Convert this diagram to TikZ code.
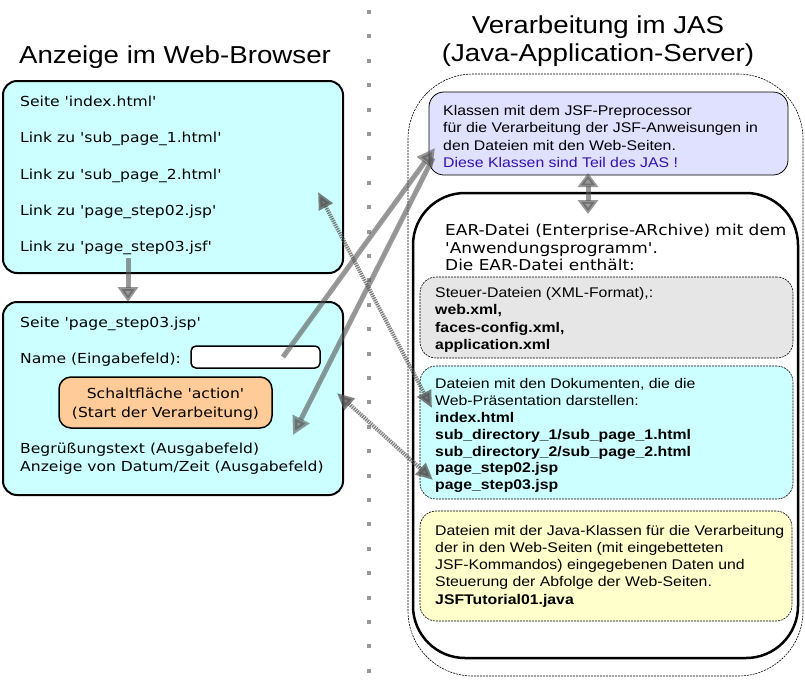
\documentclass[tikz,border=0pt]{standalone}
\usepackage{fontspec}
\usetikzlibrary{arrows.meta}
\newfontfamily\dvs[FakeStretch=1.13]{DejaVu Sans}
\newfontfamily\lis[FakeStretch=1.13]{Liberation Sans}
\definecolor{cyanbg}{HTML}{CCFFFF}
\definecolor{lavbg}{HTML}{E0E0FF}
\definecolor{graybg}{HTML}{E6E6E6}
\definecolor{yelbg}{HTML}{FFFFCC}
\definecolor{btnbg}{HTML}{FFCC99}
\definecolor{bluetxt}{HTML}{3311AA}
\definecolor{arrgray}{HTML}{555555}
\definecolor{dotgray}{HTML}{999999}
\begin{document}
\begin{tikzpicture}[x=1pt,y=-1pt,
  box/.style={draw, rectangle, inner sep=0pt, outer sep=0pt},
  leftbox/.style={box, fill=cyanbg, line width=2pt, rounded corners=14pt},
  innerbox/.style={box, line width=0.6pt, dash pattern=on 2pt off 1pt, rounded corners=16pt},
  dtxt/.style={anchor=base west, inner sep=0pt, font=\dvs\fontsize{13.8}{16}\selectfont},
  atxt/.style={anchor=base west, inner sep=0pt, font=\lis\fontsize{14}{16}\selectfont},
  abtxt/.style={anchor=base west, inner sep=0pt, font=\lis\bfseries\fontsize{14}{16}\selectfont},
  etxt/.style={anchor=base west, inner sep=0pt, font=\dvs\fontsize{15}{17}\selectfont},
  ttl/.style={anchor=base, inner sep=0pt, font=\lis\fontsize{24.5}{28}\selectfont},
  garrow/.style={draw=arrgray, fill=arrgray, opacity=0.6, line width=5pt},
  darrow/.style={draw=arrgray, fill=arrgray, opacity=0.75, line width=4pt, dash pattern=on 1.3pt off 1pt}
]
\useasboundingbox (0,0) rectangle (805,683);

% separator
\draw[dotgray, line width=4pt, dash pattern=on 4pt off 20.4pt] (369,10) -- (369,683);

% titles
\node[ttl] (tl) at (175,63) {Anzeige im Web-Browser};
\node[ttl] (tr1) at (598,33) {Verarbeitung im JAS};
\node[ttl] (tr2) at (598,61) {(Java-Application-Server)};

% left boxes
\node[leftbox, minimum width=340pt, minimum height=192pt] (b1) at (173,177) {};
\node[leftbox, minimum width=340pt, minimum height=193pt] (b2) at (173,398.5) {};
\node[box, fill=white, line width=1.5pt, rounded corners=5pt, minimum width=129pt, minimum height=22pt] (inp) at (255.5,357) {};
\node[box, fill=btnbg, line width=1.5pt, rounded corners=12pt, minimum width=213pt, minimum height=51pt] (btn) at (165.5,402.5) {};

\node[dtxt] (b1a) at (20,106) {Seite 'index.html'};
\node[dtxt] (b1b) at (20,142.5) {Link zu 'sub\_page\_1.html'};
\node[dtxt] (b1c) at (20,179) {Link zu 'sub\_page\_2.html'};
\node[dtxt] (b1d) at (20,215) {Link zu 'page\_step02.jsp'};
\node[dtxt] (b1e) at (20,251) {Link zu 'page\_step03.jsf'};

\node[dtxt] (b2a) at (20,327) {Seite 'page\_step03.jsp'};
\node[dtxt] (b2b) at (20,363) {Name (Eingabefeld):};
\node[dtxt, anchor=base] (btn1) at (165.5,398) {Schaltfläche 'action'};
\node[dtxt, anchor=base] (btn2) at (165.5,417) {(Start der Verarbeitung)};
\node[dtxt] (b2c) at (20,453) {Begrüßungstext (Ausgabefeld)};
\node[dtxt] (b2d) at (20,471) {Anzeige von Datum/Zeit (Ausgabefeld)};

% right boxes
\node[box, line width=0.6pt, dash pattern=on 2pt off 1pt, rounded corners=65pt, minimum width=395pt, minimum height=602pt] (outer) at (605.5,375) {};
\node[box, fill=lavbg, line width=0.8pt, rounded corners=15pt, minimum width=359pt, minimum height=83pt] (jsf) at (608.5,133.5) {};
\node[box, line width=2.5pt, rounded corners=52pt, minimum width=385pt, minimum height=465pt] (ear) at (605.5,425.5) {};
\node[innerbox, fill=graybg, minimum width=373pt, minimum height=81pt] (grb) at (606.5,317.5) {};
\node[innerbox, fill=cyanbg, minimum width=373pt, minimum height=133pt] (cyb) at (606.5,432.5) {};
\node[innerbox, fill=yelbg, minimum width=372pt, minimum height=110pt] (yeb) at (606,566) {};

\node[atxt] (j1) at (443,115) {Klassen mit dem JSF-Preprocessor};
\node[atxt] (j2) at (443,132.5) {für die Verarbeitung der JSF-Anweisungen in};
\node[atxt] (j3) at (443,150) {den Dateien mit den Web-Seiten.};
\node[atxt, text=bluetxt] (j4) at (443,167) {Diese Klassen sind Teil des JAS !};

\node[etxt] (e1) at (445,235) {EAR-Datei (Enterprise-ARchive) mit dem};
\node[etxt] (e2) at (445,253) {'Anwendungsprogramm'.};
\node[etxt] (e3) at (445,270.5) {Die EAR-Datei enthält:};

\node[atxt] (g1) at (435,297) {Steuer-Dateien (XML-Format),:};
\node[abtxt] (g2) at (435,314.5) {web.xml,};
\node[abtxt] (g3) at (435,332) {faces-config.xml,};
\node[abtxt] (g4) at (435,349) {application.xml};

\node[atxt] (c1) at (435,388) {Dateien mit den Dokumenten, die die};
\node[atxt] (c2) at (435,405) {Web-Präsentation darstellen:};
\node[abtxt] (c3) at (435,422) {index.html};
\node[abtxt] (c4) at (435,439) {sub\_directory\_1/sub\_page\_1.html};
\node[abtxt] (c5) at (435,456) {sub\_directory\_2/sub\_page\_2.html};
\node[abtxt] (c6) at (435,472.5) {page\_step02.jsp};
\node[abtxt] (c7) at (435,489.5) {page\_step03.jsp};

\node[atxt] (y1) at (435,535) {Dateien mit der Java-Klassen für die Verarbeitung};
\node[atxt] (y2) at (435,552.3) {der in den Web-Seiten (mit eingebetteten};
\node[atxt] (y3) at (435,569.6) {JSF-Kommandos) eingegebenen Daten und};
\node[atxt] (y4) at (435,586.9) {Steuerung der Abfolge der Web-Seiten.};
\node[abtxt] (y5) at (435,604.2) {JSFTutorial01.java};

% arrow end points
\coordinate (dA) at (128,258);
\coordinate (s1) at (283,357);
\coordinate (t1) at (435,148);
\coordinate (s2) at (433,158);
\coordinate (t2) at (293,435);
\coordinate (p1) at (318,192);
\coordinate (q1) at (432,408);
\coordinate (p2) at (337,393);
\coordinate (q2) at (433,480);
\coordinate (v1) at (588,173);
\coordinate (v2) at (588,214);

% arrows
\draw[garrow, -{Triangle[length=15pt,width=20pt]}] (dA) -- (b2.north -| dA);
\draw[garrow, -{Triangle[length=18pt,width=18pt]}] (s1) -- (t1);
\draw[garrow, -{Triangle[length=18pt,width=18pt]}] (s2) -- (t2);
\draw[garrow, {Triangle[length=14pt,width=20pt]}-{Triangle[length=14pt,width=20pt]}] (v1) -- (v2);
\draw[darrow, {Triangle[length=17pt,width=15pt]}-{Triangle[length=17pt,width=15pt]}] (p1) -- (q1);
\draw[darrow, {Triangle[length=17pt,width=15pt]}-{Triangle[length=17pt,width=15pt]}] (p2) -- (q2);
\end{tikzpicture}
\end{document}
